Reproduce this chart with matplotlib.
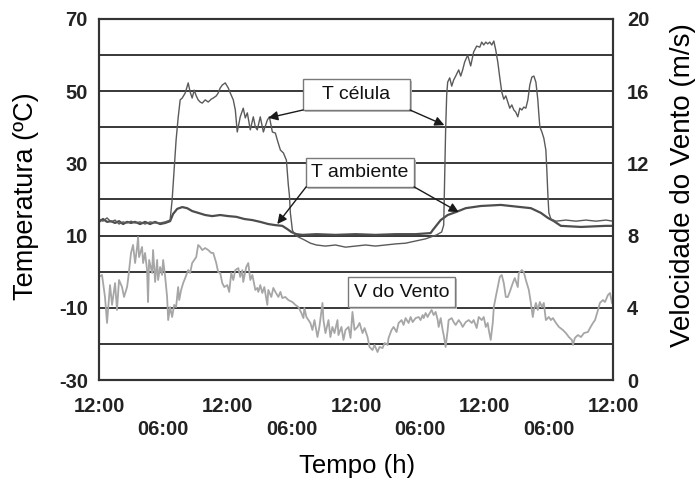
import matplotlib
matplotlib.use('Agg')
import matplotlib.pyplot as plt
from matplotlib.patches import Rectangle

plt.rcParams['font.family'] = ['Liberation Sans', 'DejaVu Sans']

# tempo em horas (6 h entre marcas)
cel_h = [0, 0.37, 0.75, 1.12, 1.50, 1.87, 2.25, 2.62, 2.99, 3.37, 3.84, 4.30, 4.77, 5.24, 5.71, 6.18,
         6.64, 6.83, 7.02, 7.20, 7.39, 7.58, 7.77, 8.05, 8.33, 8.51, 8.70, 8.89, 9.08, 9.26, 9.45, 9.64,
         9.92, 10.20, 10.48, 10.67, 10.95, 11.13, 11.32, 11.51, 11.79, 12.07, 12.26, 12.54, 12.73, 12.91,
         13.19, 13.47, 13.66, 13.85, 14.13, 14.41, 14.60, 14.78, 15.06, 15.35, 15.72, 15.91, 16.19, 16.47,
         16.65, 16.94, 17.22, 17.50, 17.59, 17.68, 17.78, 17.87, 18.06, 18.25, 18.62, 19.18, 19.74, 20.30,
         21.15, 22.08, 23.02, 23.95, 24.89, 25.82, 26.76, 27.70, 28.63, 29.57, 30.03, 30.50, 30.97, 31.53,
         32.00, 32.19, 32.28, 32.37, 32.47, 32.56, 32.75, 32.94, 33.12, 33.31, 33.59, 33.78, 33.96, 34.15,
         34.43, 34.71, 34.99, 35.27, 35.56, 35.74, 35.93, 36.12, 36.30, 36.49, 36.68, 36.87, 37.05, 37.24,
         37.43, 37.61, 37.80, 37.99, 38.18, 38.36, 38.55, 38.74, 38.92, 39.11, 39.30, 39.49, 39.67, 39.86,
         40.05, 40.23, 40.42, 40.61, 40.80, 40.98, 41.08, 41.17, 41.36, 41.54, 41.73, 41.82, 41.92, 42.01,
         42.20, 42.67, 43.60, 44.54, 45.47, 46.41, 47.34, 48.0]
t_celula = [14.6, 14.0, 14.9, 13.8, 14.3, 13.2, 13.8, 13.5, 14.0, 13.5, 13.8, 13.2, 13.8, 13.5, 13.5, 13.8,
            14.3, 19.9, 28.2, 36.5, 42.6, 47.6, 48.1, 49.5, 52.3, 49.8, 48.1, 50.3, 48.7, 47.6, 47.0, 46.7,
            47.6, 47.0, 47.8, 48.1, 48.7, 49.5, 50.9, 51.7, 52.3, 50.9, 49.5, 47.6, 44.8, 38.7,
            42.9, 45.3, 42.6, 44.0, 39.3, 42.9, 40.1, 39.3, 42.9, 38.7, 42.0, 42.9, 38.7, 38.4,
            36.5, 33.7, 32.9, 30.9, 27.3, 24.0, 21.2, 16.3, 11.5, 10.4, 9.6, 8.8, 7.9, 7.4,
            7.1, 7.4, 6.8, 7.1, 7.4, 7.1, 7.4, 7.7, 7.9, 8.5, 8.8, 9.1, 9.6, 10.2,
            11.0, 12.9, 25.4, 39.3, 49.0, 52.5, 53.7, 51.4, 53.1, 54.2, 55.9, 54.2, 55.9, 58.1,
            60.0, 57.0, 60.9, 62.5, 62.2, 63.6, 62.8, 63.6, 63.1, 63.6, 62.8, 63.9, 61.4, 58.1,
            53.7, 49.8, 47.8, 48.7, 47.0, 45.3, 46.2, 44.8, 44.2, 42.9, 45.3, 44.8, 45.6, 45.3,
            47.6, 51.7, 53.9, 54.2, 52.5, 47.6, 43.4, 40.1, 38.7, 37.0, 33.7, 28.2, 21.2, 16.3,
            14.6, 14.0, 14.3, 14.0, 14.3, 14.0, 14.3, 14.0]

amb_h = [0, 0.37, 0.75, 1.12, 1.50, 1.87, 2.25, 2.62, 2.99, 3.37, 3.84, 4.30, 4.77, 5.24, 5.71, 6.18,
         6.64, 6.92, 7.30, 7.77, 8.23, 8.70, 9.26, 9.92, 10.57, 11.32, 12.07, 12.82, 13.57, 14.32, 15.06,
         15.81, 16.47, 17.12, 17.59, 17.96, 18.43, 18.99, 20.30, 22.08, 23.95, 25.82, 27.70, 29.57, 30.97,
         31.16, 31.91, 32.56, 33.31, 34.25, 35.65, 37.52, 39.39, 40.33, 41.26, 41.92, 42.48, 43.13, 45.01,
         47.34, 48.0]
t_ambiente = [13.8, 14.6, 13.8, 14.0, 13.5, 14.0, 13.2, 13.8, 13.5, 13.8, 13.2, 13.8, 13.2, 13.8, 13.2, 13.5,
              14.0, 16.0, 17.4, 17.9, 17.6, 16.8, 16.3, 15.7, 15.4, 15.7, 15.4, 15.2, 14.6, 14.3, 13.8,
              13.2, 12.9, 12.7, 11.8, 11.0, 10.4, 10.2, 10.4, 10.2, 10.4, 10.2, 10.4, 10.4, 10.7,
              11.5, 14.3, 15.7, 16.5, 17.6, 18.2, 18.5, 17.9, 17.6, 16.3, 14.9, 14.0, 12.7, 12.4,
              12.7, 12.7]

vento_h = [0, 0.28, 0.56, 0.75, 1.03, 1.22, 1.50, 1.68, 1.87, 2.15, 2.34, 2.62, 2.71, 2.99, 3.18, 3.37,
           3.56, 3.65, 3.74, 4.02, 4.12, 4.30, 4.49, 4.58, 4.68, 4.96, 5.05, 5.24, 5.43, 5.52, 5.71, 5.89,
           5.99, 6.18, 6.36, 6.46, 6.64, 6.83, 7.02, 7.20, 7.39, 7.49, 7.67, 7.86, 8.05, 8.33, 8.51, 8.70,
           8.89, 9.08, 9.26, 9.45, 9.64, 9.92, 10.20, 10.48, 10.67, 10.95, 11.13, 11.32, 11.51, 11.70,
           11.98, 12.16, 12.35, 12.54, 12.73, 13.01, 13.19, 13.38, 13.47, 13.75, 13.94, 14.13, 14.32, 14.60,
           14.78, 14.88, 15.06, 15.25, 15.44, 15.72, 15.81, 16.09, 16.28, 16.47, 16.75, 16.94, 17.12, 17.40,
           17.68, 18.06, 18.34, 18.62, 18.90, 19.09, 19.18, 19.37, 19.56, 19.74, 19.93, 20.12, 20.40, 20.58,
           20.87, 20.96, 21.15, 21.43, 21.61, 21.80, 21.99, 22.27, 22.36, 22.64, 22.83, 23.02, 23.30, 23.49,
           23.67, 23.86, 24.14, 24.33, 24.61, 24.80, 25.08, 25.26, 25.54, 25.73, 26.01, 26.20, 26.48, 26.67,
           26.95, 27.04, 27.32, 27.51, 27.79, 27.98, 28.26, 28.44, 28.63, 28.91, 29.10, 29.29, 29.57, 29.85,
           30.03, 30.22, 30.32, 30.50, 30.69, 30.78, 31.06, 31.25, 31.44, 31.63, 31.72, 31.91, 32.09, 32.19,
           32.37, 32.56, 32.65, 32.94, 33.12, 33.31, 33.59, 33.78, 33.96, 34.25, 34.53, 34.81, 34.99, 35.27,
           35.46, 35.74, 35.93, 36.12, 36.30, 36.40, 36.58, 36.77, 36.87, 37.05, 37.24, 37.43, 37.61, 37.80,
           37.99, 38.18, 38.36, 38.64, 38.83, 39.11, 39.20, 39.49, 39.67, 39.86, 40.14, 40.33, 40.51, 40.61,
           40.80, 40.98, 41.17, 41.36, 41.54, 41.73, 42.01, 42.20, 42.39, 42.67, 42.95, 43.32, 43.60, 43.88,
           44.16, 44.26, 44.44, 44.72, 45.01, 45.29, 45.66, 45.85, 46.13, 46.32, 46.60, 46.78, 47.06, 47.25,
           47.53, 47.72, 47.91]
v_vento = [5.71, 5.82, 4.60, 3.16, 5.26, 4.16, 5.37, 3.88, 5.54, 5.15, 4.60, 5.15, 5.54, 7.04, 7.48, 6.48,
           7.37, 7.92, 6.81, 7.37, 6.48, 7.04, 6.09, 4.32, 6.65, 5.93, 7.20, 5.43, 6.65, 5.54, 6.26, 5.82,
           6.65, 5.71, 4.60, 3.32, 4.04, 3.49, 4.16, 4.04, 5.15, 4.43, 4.99, 5.37, 5.65, 6.09, 5.93, 6.48,
           6.65, 6.81, 7.48, 7.37, 7.20, 7.31, 7.20, 7.04, 7.04, 6.48, 5.98, 5.93, 5.37, 5.15,
           5.26, 4.88, 5.93, 5.54, 6.09, 6.20, 5.71, 6.09, 5.43, 6.26, 6.48, 5.54, 5.82, 4.99,
           5.10, 4.88, 5.26, 4.82, 5.15, 4.16, 4.99, 4.60, 5.10, 4.88, 4.60, 4.88, 4.54, 4.60,
           4.43, 4.32, 4.16, 4.04, 3.71, 3.43, 3.99, 3.49, 3.32, 3.16, 2.77, 3.32, 2.38, 2.94,
           4.27, 3.32, 2.60, 3.32, 2.38, 2.94, 2.60, 3.32, 2.49, 2.94, 2.22, 2.77, 2.94, 2.33,
           3.77, 2.77, 2.94, 3.16, 2.60, 2.88, 2.38, 1.83, 1.66, 1.94, 1.55, 1.83, 1.77, 2.05,
           1.94, 2.33, 2.77, 2.94, 2.66, 3.16, 3.32, 3.05, 3.43, 3.16, 3.49, 3.21, 3.43, 3.49,
           3.32, 3.60, 3.43, 3.71, 3.49, 3.60, 3.88, 3.60, 3.77, 3.32, 2.94, 3.43, 2.77, 2.49,
           1.83, 2.77, 3.32, 3.43, 3.21, 3.05, 3.32, 3.16, 2.94, 3.21, 3.32, 3.16, 3.32, 2.88,
           3.49, 3.32, 3.49, 2.94, 3.16, 2.77, 2.22, 3.16, 4.04, 4.60, 5.15, 5.71, 5.82, 5.37,
           4.60, 4.60, 4.88, 5.37, 5.65, 5.15, 5.93, 6.09, 5.98, 5.54, 4.99, 4.27, 3.49, 3.88,
           4.27, 3.88, 4.32, 4.04, 4.27, 3.32, 3.49, 3.32, 3.43, 3.16, 2.94, 2.77, 2.60, 2.38,
           2.22, 1.94, 2.33, 2.49, 2.38, 2.60, 2.66, 2.88, 3.16, 3.32, 3.88, 4.27, 4.43, 4.32,
           4.71, 4.82, 4.27]

xticks_12 = [0, 12, 24, 36, 48]
xticks_06 = [6, 18, 30, 42]
temp_ticks = [-30, -10, 10, 30, 50, 70]
vento_ticks = [0, 4, 8, 12, 16, 20]

fig = plt.figure(figsize=(6.97, 4.86), dpi=100)
ax = fig.add_axes([99 / 697, 106 / 486, 514 / 697, 361 / 486])
ax2 = ax.twinx()

grid_c = '#383838'
for yv in range(-20, 70, 10):
    ax.axhline(yv, color=grid_c, lw=1.4, zorder=1)

ax.plot(amb_h, t_ambiente, color='#4d4d4d', lw=1.6, zorder=3)
ax.plot(cel_h, t_celula, color='#5a5a5a', lw=1.0, zorder=3)
ax2.plot(vento_h, v_vento, color='#a6a6a6', lw=1.3, zorder=2)

ax.set_xlim(0, 48)
ax.set_ylim(-30, 70)
ax2.set_ylim(0, 20)

tick_font = dict(fontsize=14.5, fontweight='bold', color='#222222')
ax.set_yticks(temp_ticks)
ax.set_yticklabels([str(v) for v in temp_ticks], **tick_font)
ax2.set_yticks(vento_ticks)
ax2.set_yticklabels([str(v) for v in vento_ticks], **tick_font)

ax.set_xticks(xticks_12)
ax.set_xticklabels(['12:00'] * len(xticks_12), **tick_font)
ax.set_xticks(xticks_06, minor=True)
ax.set_xticklabels(['06:00'] * len(xticks_06), minor=True, **tick_font)

ax.tick_params(axis='x', which='major', length=0, pad=12)
ax.tick_params(axis='x', which='minor', length=0, pad=29)
ax.tick_params(axis='y', length=0, pad=8)
ax2.tick_params(axis='y', length=0, pad=10)

for a in (ax, ax2):
    for s in a.spines.values():
        s.set_color('#333333')
        s.set_linewidth(1.5)

ax.set_ylabel('Temperatura (ºC)', fontsize=19.5)
ax.yaxis.set_label_coords(-0.117, 0.51)
ax2.set_ylabel('Velocidade do Vento (m/s)', fontsize=20)
ax2.yaxis.set_label_coords(1.111, 0.54)
ax.set_xlabel('Tempo (h)', fontsize=18.5)
ax.xaxis.set_label_coords(0.502, -0.205)

# caixas de legenda com setas
caixas = [
    ('T célula', 0.397, 0.748, 0.208, 0.086),
    ('T ambiente', 0.403, 0.535, 0.210, 0.080),
    ('V do Vento', 0.484, 0.202, 0.209, 0.083),
]
for txt, x0, y0, w, h in caixas:
    ax2.add_patch(Rectangle((x0 + 0.004, y0 - 0.006), w, h, transform=ax2.transAxes,
                            facecolor='#bdbdbd', edgecolor='none', zorder=5))
    ax2.add_patch(Rectangle((x0, y0), w, h, transform=ax2.transAxes,
                            facecolor='white', edgecolor='#7a7a7a', lw=1.0, zorder=6))
    ax2.text(x0 + w / 2, y0 + h / 2, txt, transform=ax2.transAxes, ha='center', va='center',
             fontsize=14, color='#111111', zorder=7)

setas = [
    ((15.81, 42.6), (0.397, 0.748)),
    ((32.25, 40.6), (0.605, 0.748)),
    ((16.65, 13.2), (0.403, 0.535)),
    ((33.59, 16.5), (0.613, 0.535)),
]
for alvo, origem in setas:
    ax2.annotate('', xy=alvo, xycoords=ax.transData, xytext=origem, textcoords='axes fraction',
                 arrowprops=dict(arrowstyle='-|>', color='#1a1a1a', lw=1.0, mutation_scale=14,
                                 shrinkA=0, shrinkB=0), zorder=8)

fig.savefig('out.png', dpi=100)
